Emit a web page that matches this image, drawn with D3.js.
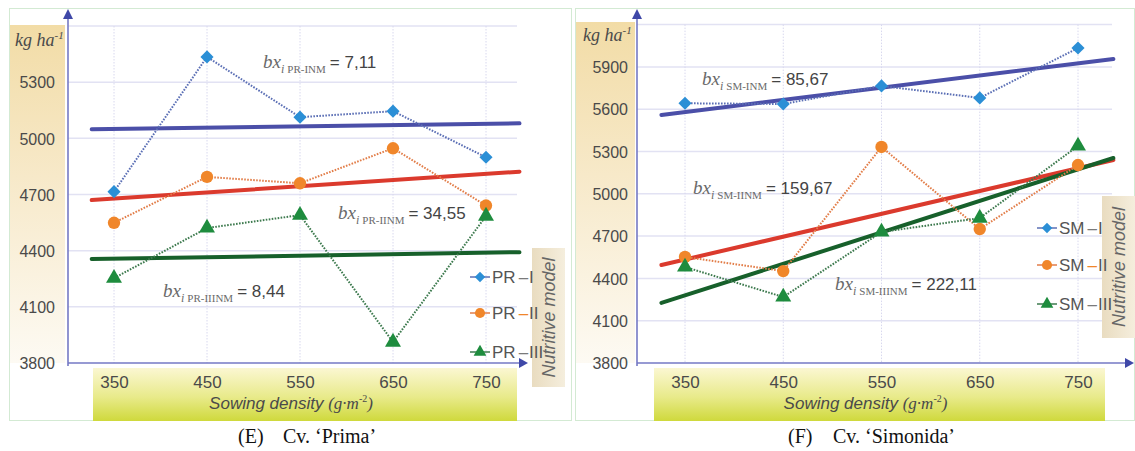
<!DOCTYPE html>
<html>
<head>
<meta charset="utf-8">
<script src="https://cdn.jsdelivr.net/npm/d3@7"></script>
<style>
  body { margin: 0; background: #fff; }
  svg { display: block; }
</style>
</head>
<body>
<svg id="chart" width="1135" height="451"></svg>
<script>
// sowing density categories (g m-2)
var densities = [350, 450, 550, 650, 750];
// x extent of the fitted lines
var trendSpan = [326, 786];

// Cv. Prima
var primaTicks = [3800, 4100, 4400, 4700, 5000, 5300];
var primaI   = [4715, 5435, 5113, 5145, 4899];
var primaII  = [4549, 4794, 4760, 4947, 4641];
var primaIII = [4253, 4521, 4590, 3912, 4585];
var primaTrendI   = [5048, 5080];
var primaTrendII  = [4670, 4822];
var primaTrendIII = [4355, 4392];
var primaSlopes = ["7,11", "34,55", "8,44"];

// Cv. Simonida
var simonidaTicks = [3800, 4100, 4400, 4700, 5000, 5300, 5600, 5900];
var simonidaI   = [5642, 5637, 5765, 5680, 6034];
var simonidaII  = [4552, 4452, 5332, 4750, 5204];
var simonidaIII = [4481, 4268, 4729, 4828, 5339];
var simonidaTrendI   = [5559, 5956];
var simonidaTrendII  = [4495, 5240];
var simonidaTrendIII = [4226, 5254];
var simonidaSlopes = ["85,67", "159,67", "222,11"];

var models = ["I", "II", "III"];

var markerColor = ["#2b8fd6", "#f0862a", "#1e8c3e"];
var dotColor    = ["#5b6fb5", "#e27d48", "#3d7a4e"];
var trendColor  = ["#4b4fa8", "#db3a2d", "#17602b"];
var symbols     = [d3.symbolDiamond2, d3.symbolCircle, d3.symbolTriangle];

var SANS = "'Liberation Sans', Arial, sans-serif";
var SERIF = "'Liberation Serif', 'Times New Roman', serif";

var svg = d3.select("#chart");
var defs = svg.append("defs");

var tan = defs.append("linearGradient").attr("id", "tanBand")
  .attr("x1", 0).attr("y1", 0).attr("x2", 0).attr("y2", 1);
tan.append("stop").attr("offset", "0%").attr("stop-color", "#f2dca6");
tan.append("stop").attr("offset", "45%").attr("stop-color", "#f7e9c9");
tan.append("stop").attr("offset", "100%").attr("stop-color", "#fdfaf3");

var yel = defs.append("linearGradient").attr("id", "xBand")
  .attr("x1", 0).attr("y1", 0).attr("x2", 0).attr("y2", 1);
yel.append("stop").attr("offset", "0%").attr("stop-color", "#fbf7d2");
yel.append("stop").attr("offset", "55%").attr("stop-color", "#e8ea8a");
yel.append("stop").attr("offset", "100%").attr("stop-color", "#cfd93c");

var nm = defs.append("linearGradient").attr("id", "nmBox")
  .attr("x1", 0).attr("y1", 0).attr("x2", 1).attr("y2", 0);
nm.append("stop").attr("offset", "0%").attr("stop-color", "#e9dcc0");
nm.append("stop").attr("offset", "100%").attr("stop-color", "#f5eedd");

var panels = [
  {
    code: "PR", caption: "(E)", cv: "Cv. \u2018Prima\u2019", capX: 238,
    ticks: primaTicks, series: [primaI, primaII, primaIII],
    trends: [primaTrendI, primaTrendII, primaTrendIII], slopes: primaSlopes,
    box: [9, 8, 562, 412], axisX: 68, plotRight: 517, arrowRight: 528,
    xRange: [114, 486], yDomain: [3800, 5600], yTop: 26,
    tanX: [10, 65], tanTop: 25, xBand: [93, 517], labelRight: 55,
    unit: [15, 46],
    legendX: 470, legendY: [277, 313, 352],
    nmBox: [532, 248, 33, 139],
    annos: [[263, 68], [338, 219], [163, 297]]
  },
  {
    code: "SM", caption: "(F)", cv: "Cv. \u2018Simonida\u2019", capX: 788,
    ticks: simonidaTicks, series: [simonidaI, simonidaII, simonidaIII],
    trends: [simonidaTrendI, simonidaTrendII, simonidaTrendIII], slopes: simonidaSlopes,
    box: [575, 8, 559, 412], axisX: 637, plotRight: 1112, arrowRight: 1134,
    xRange: [685, 1078], yDomain: [3800, 6200], yTop: 24.6,
    tanX: [576, 635], tanTop: 22, xBand: [654, 1105], labelRight: 628,
    unit: [583, 41],
    legendX: 1037, legendY: [228, 265, 304],
    nmBox: [1102, 196, 33, 142],
    annos: [[702, 85], [693, 194], [835, 290]]
  }
];

panels.forEach(drawPanel);

function drawPanel(p) {
  var g = svg.append("g");
  var x = d3.scaleLinear().domain([350, 750]).range(p.xRange);
  var y = d3.scaleLinear().domain(p.yDomain).range([363, p.yTop]);

  // frame
  g.append("rect")
    .attr("x", p.box[0] + 0.5).attr("y", p.box[1] + 0.5)
    .attr("width", p.box[2]).attr("height", p.box[3])
    .attr("fill", "none").attr("stroke", "#d3ead3");

  // bands behind the tick labels
  g.append("rect")
    .attr("x", p.tanX[0]).attr("y", p.tanTop)
    .attr("width", p.tanX[1] - p.tanX[0]).attr("height", 363 - p.tanTop)
    .attr("fill", "url(#tanBand)");
  g.append("rect")
    .attr("x", p.xBand[0]).attr("y", 368)
    .attr("width", p.xBand[1] - p.xBand[0]).attr("height", 53)
    .attr("fill", "url(#xBand)");

  // grid
  var gridVals = d3.range(p.yDomain[0] + 300, p.yDomain[1] + 1, 300);
  g.selectAll(".hgrid").data(gridVals).enter().append("line")
    .attr("x1", p.axisX).attr("x2", p.plotRight)
    .attr("y1", function(d) { return y(d); }).attr("y2", function(d) { return y(d); })
    .attr("stroke", "#e2e2f3").attr("stroke-width", 1.5);
  g.selectAll(".vgrid").data(densities).enter().append("line")
    .attr("x1", function(d) { return x(d); }).attr("x2", function(d) { return x(d); })
    .attr("y1", y(p.yDomain[1])).attr("y2", 363)
    .attr("stroke", "#d8d8ee").attr("stroke-width", 1)
    .attr("stroke-dasharray", "1.5,1.5");

  // axes lines with arrows
  var axisCol = "#7579c4";
  g.append("line").attr("x1", p.axisX).attr("x2", p.axisX)
    .attr("y1", 366).attr("y2", 16).attr("stroke", axisCol).attr("stroke-width", 1.6);
  g.append("path")
    .attr("d", "M" + (p.axisX - 5) + ",19L" + p.axisX + ",9L" + (p.axisX + 5) + ",19Z")
    .attr("fill", "#3f48a8");
  g.append("line").attr("x1", p.axisX).attr("x2", p.arrowRight - 8)
    .attr("y1", 363).attr("y2", 363).attr("stroke", axisCol).attr("stroke-width", 1.6);
  g.append("path")
    .attr("d", "M" + (p.arrowRight - 9) + ",358L" + p.arrowRight + ",363L" + (p.arrowRight - 9) + ",368Z")
    .attr("fill", "#3f48a8");

  // tick labels
  var ya = g.append("g")
    .attr("transform", "translate(" + p.labelRight + ",0)")
    .call(d3.axisLeft(y).tickValues(p.ticks).tickSize(0).tickPadding(0).tickFormat(d3.format("d")));
  ya.select(".domain").remove();
  ya.selectAll("text").attr("font-family", SANS).attr("font-size", 16)
    .attr("fill", "#4a4a4a").attr("dy", "0.36em");

  var xa = g.append("g")
    .attr("transform", "translate(0,363)")
    .call(d3.axisBottom(x).tickValues(densities).tickSize(0).tickPadding(13).tickFormat(d3.format("d")));
  xa.select(".domain").remove();
  xa.selectAll("text").attr("font-family", SANS).attr("font-size", 17).attr("fill", "#4a4a4a");

  // axis titles
  var ut = g.append("text").attr("x", p.unit[0]).attr("y", p.unit[1])
    .attr("font-family", SERIF).attr("font-style", "italic").attr("font-size", 18).attr("fill", "#4a4a4a");
  ut.append("tspan").text("kg ha");
  ut.append("tspan").attr("font-size", 11).attr("dy", -7).text("-1");

  var xt = g.append("text").attr("x", (p.xBand[0] + p.xBand[1]) / 2 - 14).attr("y", 409)
    .attr("text-anchor", "middle").attr("fill", "#4a4a4a");
  xt.append("tspan").attr("font-family", SANS).attr("font-style", "italic").attr("font-size", 17)
    .text("Sowing density ");
  xt.append("tspan").attr("font-family", SERIF).attr("font-style", "italic").attr("font-size", 17)
    .text("(g\u00b7m");
  xt.append("tspan").attr("font-family", SERIF).attr("font-size", 10).attr("dy", -7).text("-2");
  xt.append("tspan").attr("font-family", SERIF).attr("font-style", "italic").attr("font-size", 17)
    .attr("dy", 7).text(")");

  // fitted lines
  p.trends.forEach(function(t, i) {
    g.append("line")
      .attr("x1", x(trendSpan[0])).attr("y1", y(t[0]))
      .attr("x2", x(trendSpan[1])).attr("y2", y(t[1]))
      .attr("stroke", trendColor[i]).attr("stroke-width", 4)
      .attr("stroke-linecap", "round");
  });

  // measured series
  var line = d3.line()
    .x(function(d, j) { return x(densities[j]); })
    .y(function(d) { return y(d); });
  p.series.forEach(function(s, i) {
    g.append("path").attr("d", line(s))
      .attr("fill", "none").attr("stroke", dotColor[i])
      .attr("stroke-width", 2).attr("stroke-dasharray", "1.6,1.4");
  });
  p.series.forEach(function(s, i) {
    g.selectAll(".m" + i).data(s).enter().append("path")
      .attr("d", d3.symbol().type(symbols[i]).size(i === 1 ? 120 : 110))
      .attr("transform", function(d, j) { return "translate(" + x(densities[j]) + "," + y(d) + ")"; })
      .attr("fill", markerColor[i]);
  });

  // slope annotations
  p.annos.forEach(function(a, i) {
    var t = g.append("text").attr("x", a[0]).attr("y", a[1]).attr("fill", "#6a6a6a");
    t.append("tspan").attr("font-family", SERIF).attr("font-style", "italic").attr("font-size", 19).text("bx");
    t.append("tspan").attr("font-family", SERIF).attr("font-style", "italic").attr("font-size", 12)
      .attr("dy", 5).text("i");
    t.append("tspan").attr("font-family", SERIF).attr("font-size", 11).attr("dx", 3)
      .text(p.code + "-" + models[i] + "NM");
    t.append("tspan").attr("font-family", SANS).attr("font-size", 17).attr("fill", "#444")
      .attr("dy", -5).attr("dx", 4).text("= " + p.slopes[i]);
  });

  // nutritive model label (legend text runs over it)
  var b = p.nmBox;
  g.append("rect").attr("x", b[0]).attr("y", b[1]).attr("width", b[2]).attr("height", b[3])
    .attr("fill", "url(#nmBox)");
  g.append("text")
    .attr("transform", "translate(" + (b[0] + b[2] / 2 + 6) + "," + (b[1] + b[3] / 2) + ") rotate(-90)")
    .attr("text-anchor", "middle")
    .attr("font-family", SANS).attr("font-style", "italic").attr("font-size", 18).attr("fill", "#666")
    .text("Nutritive model");

  // legend
  models.forEach(function(m, i) {
    var ly = p.legendY[i];
    g.append("line").attr("x1", p.legendX).attr("x2", p.legendX + 20)
      .attr("y1", ly).attr("y2", ly).attr("stroke", dotColor[i]).attr("stroke-width", 1.5);
    g.append("path")
      .attr("d", d3.symbol().type(symbols[i]).size(i === 1 ? 80 : 70))
      .attr("transform", "translate(" + (p.legendX + 10) + "," + ly + ")")
      .attr("fill", markerColor[i]);
    var lt = g.append("text").attr("x", p.legendX + 22).attr("y", ly + 6)
      .attr("font-family", SANS).attr("font-size", 17).attr("fill", "#555");
    lt.append("tspan").text(p.code);
    lt.append("tspan").attr("dx", 3).attr("fill", i === 1 ? markerColor[1] : "#7a7a7a").text("\u2013");
    lt.append("tspan").attr("dx", 1).text(m);
  });

  // caption
  var c = svg.append("text").attr("x", p.capX).attr("y", 443)
    .attr("font-family", SERIF).attr("font-size", 20).attr("fill", "#111");
  c.append("tspan").text(p.caption);
  c.append("tspan").attr("x", p.capX + 45).text(p.cv);
}
</script>
</body>
</html>
